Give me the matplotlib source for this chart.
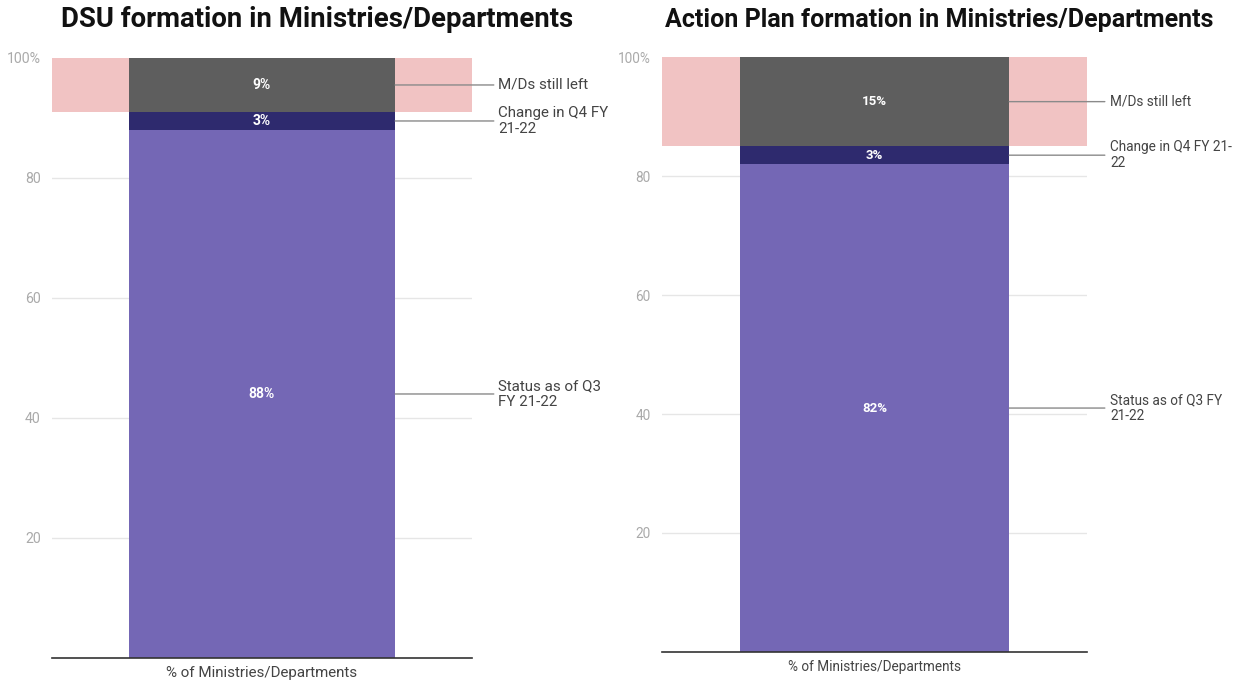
import matplotlib.pyplot as plt

plt.rcParams['font.family'] = ['Roboto', 'DejaVu Sans']

titles = ["DSU formation in Ministries/Departments",
          "Action Plan formation in Ministries/Departments"]
category = "% of Ministries/Departments"
status_q3 = [88, 82]
change_q4 = [3, 3]
still_left = [9, 15]
labels_left = [["Status as of Q3\nFY 21-22", "Change in Q4 FY\n21-22", "M/Ds still left"],
               ["Status as of Q3 FY\n21-22", "Change in Q4 FY 21-\n22", "M/Ds still left"]]
yticks = [20, 40, 60, 80, 100]
ytick_labels = ["20", "40", "60", "80", "100%"]

colors = ['#7467b5', '#2e2a6e', '#5e5e5e']
pink = '#f1c3c3'

fig = plt.figure(figsize=(12.41, 6.82), dpi=100)
axes_pos = [[0.0419, 0.0352, 0.3384, 0.8798], [0.5334, 0.044, 0.3425, 0.8724]]
title_x = [0.2555, 0.757]
title_size = [19.8, 18]
text_size = [10.9, 9.8]
data_size = [10, 9.5]
tick_size = [10.2, 9.8]
line_end = [1.052, 1.042]
text_x = [1.062, 1.054]

for i in range(2):
    ax = fig.add_axes(axes_pos[i])
    vals = [status_q3[i], change_q4[i], still_left[i]]
    done = status_q3[i] + change_q4[i]
    ax.axhspan(done, 100, color=pink, zorder=1, lw=0)
    bottom = 0
    for v, c, lab in zip(vals, colors, labels_left[i]):
        ax.bar([0], [v], bottom=bottom, width=0.634, color=c, zorder=2)
        mid = bottom + v / 2
        ax.text(0, mid, f"{v}%", color='white', fontweight='bold', fontsize=data_size[i],
                ha='center', va='center', zorder=3)
        ax.annotate("", xy=(0.317, mid), xycoords='data',
                    xytext=(line_end[i], mid), textcoords=('axes fraction', 'data'),
                    arrowprops=dict(arrowstyle='-', color='#8a8a8a', lw=1,
                                    shrinkA=0, shrinkB=0), annotation_clip=False)
        ax.text(text_x[i], mid, lab, transform=ax.get_yaxis_transform(),
                fontsize=text_size[i], color='#444444', ha='left', va='center',
                linespacing=1.2)
        bottom += v
    ax.set_xlim(-0.5, 0.5)
    ax.set_ylim(0, 100)
    ax.set_yticks(yticks)
    ax.set_yticklabels(ytick_labels)
    ax.tick_params(axis='y', length=0, colors='#aaaaaa', labelsize=tick_size[i], pad=8)
    ax.set_xticks([0])
    ax.set_xticklabels([category])
    ax.tick_params(axis='x', length=0, colors='#444444', labelsize=text_size[i], pad=6)
    ax.grid(axis='y', color='#e6e6e6', lw=1, zorder=0)
    ax.set_axisbelow(True)
    for s in ['top', 'right', 'left']:
        ax.spines[s].set_visible(False)
    ax.spines['bottom'].set_color('#333333')
    ax.spines['bottom'].set_linewidth(1.2)
    ax.spines['bottom'].set_zorder(4)
    fig.text(title_x[i], 0.971, titles[i], fontsize=title_size[i], fontweight='bold',
             ha='center', va='center', color='#111111')

fig.savefig("out.png", dpi=100)
